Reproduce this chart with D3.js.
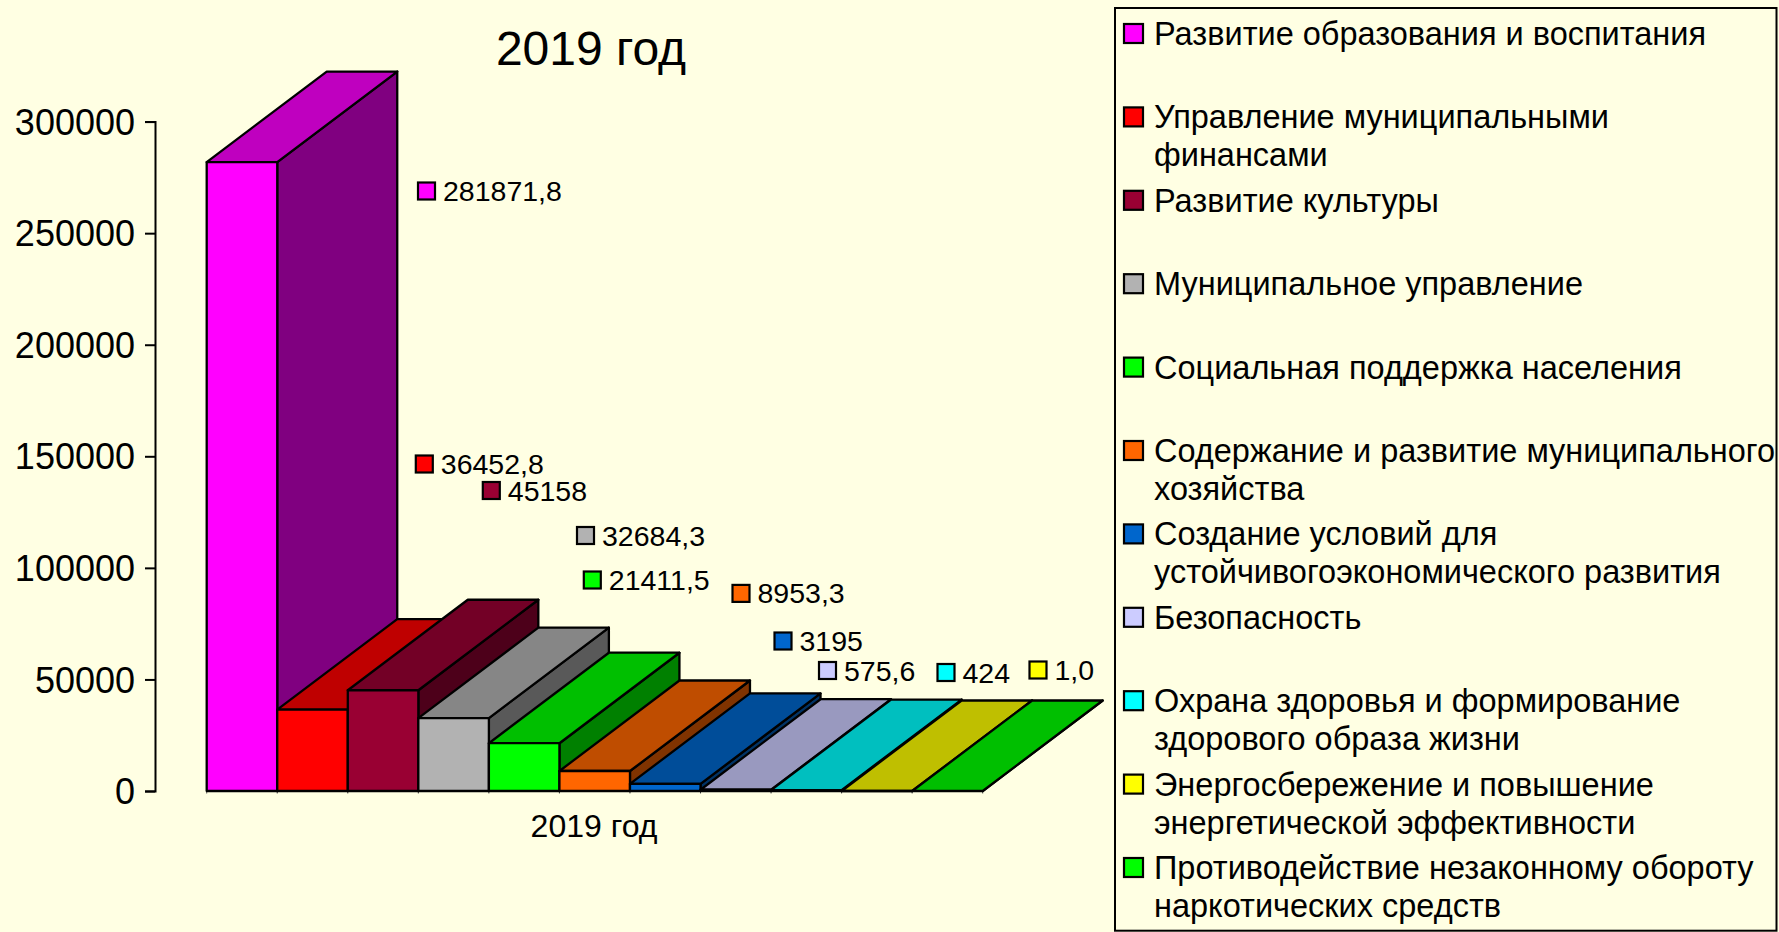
<!DOCTYPE html>
<html lang="ru">
<head>
<meta charset="UTF-8">
<title>2019 год</title>
<script src="https://d3js.org/d3.v7.min.js"></script>
<style>
html, body {margin: 0; padding: 0; background: #FFFFE3;}
svg {display: block;}
text {font-family: "Liberation Sans", Arial, sans-serif; fill: #000;}
.tick text {font-family: "Liberation Sans", Arial, sans-serif;}
</style>
</head>
<body>
<svg id="chart" width="1779" height="932"></svg>
<script>
var categories = [
    "Развитие образования и воспитания",
    "Управление муниципальными финансами",
    "Развитие культуры",
    "Муниципальное управление",
    "Социальная поддержка населения",
    "Содержание и развитие муниципального хозяйства",
    "Создание условий для устойчивогоэкономического развития",
    "Безопасность",
    "Охрана здоровья и формирование здорового образа жизни",
    "Энергосбережение и повышение энергетической эффективности",
    "Противодействие незаконному обороту наркотических средств"
];
var values = [281871.8, 36452.8, 45158, 32684.3, 21411.5, 8953.3, 3195, 575.6, 424, 1, 0];
var valueLabels = ["281871,8", "36452,8", "45158", "32684,3", "21411,5", "8953,3", "3195", "575,6", "424", "1,0", ""];
var colors = ["#FF00FF", "#FF0000", "#990033", "#B2B2B2", "#00FF00", "#FF6600", "#0066CC", "#CCCCFF", "#00FFFF", "#FFFF00", "#00FF00"];
var tickValues = [0, 50000, 100000, 150000, 200000, 250000, 300000];
var legendLines = [
    ["Развитие образования и воспитания"],
    ["Управление муниципальными", "финансами"],
    ["Развитие культуры"],
    ["Муниципальное управление"],
    ["Социальная поддержка населения"],
    ["Содержание и развитие муниципального", "хозяйства"],
    ["Создание условий для", "устойчивогоэкономического развития"],
    ["Безопасность"],
    ["Охрана здоровья и формирование", "здорового образа жизни"],
    ["Энергосбережение и повышение", "энергетической эффективности"],
    ["Противодействие незаконному обороту", "наркотических средств"]
];
// where the data label keys sit (the labels are placed by hand in the original)
var labelX = [426.5, 424.3, 491.3, 585.5, 592.3, 741, 783, 827.5, 946, 1038];
var labelY = [191, 464, 490.5, 535.5, 580, 593.4, 641, 670.5, 672.5, 670];

var depthX = 120, depthY = 90.5;
var baseY = 791, topY = 121.6;

var svg = d3.select("#chart");

var xs = d3.scaleBand().domain(categories).range([206.7, 982.7]);
var ys = d3.scaleLinear().domain([0, 300000]).range([baseY, topY]);

function shade(c, k) {
    var r = d3.rgb(c);
    return d3.rgb(r.r * k, r.g * k, r.b * k).formatHex();
}

// y axis
var yAxis = svg.append("g")
    .attr("transform", "translate(155,0)")
    .call(d3.axisLeft(ys).tickValues(tickValues).tickFormat(d3.format("d")).tickSize(10).tickPadding(10));
yAxis.select(".domain").attr("stroke", "#000").attr("stroke-width", 2);
yAxis.selectAll(".tick line").attr("stroke", "#000").attr("stroke-width", 2);
yAxis.selectAll(".tick text").attr("font-size", 36).attr("dy", "0.35em");

// small ticks on the category axis
svg.append("g").selectAll("line")
    .data(categories.concat(["end"]))
    .enter().append("line")
    .attr("x1", function(d) { return d === "end" ? xs.range()[1] : xs(d); })
    .attr("x2", function(d) { return d === "end" ? xs.range()[1] : xs(d); })
    .attr("y1", baseY)
    .attr("y2", baseY + 2.5)
    .attr("stroke", "#555")
    .attr("stroke-width", 1);

// bars, left to right so the nearer ones paint over
var bars = svg.append("g").selectAll("g")
    .data(categories)
    .enter().append("g")
    .attr("stroke", "#000")
    .attr("stroke-width", 2.3)
    .attr("stroke-linejoin", "round");

function pts(a) { return a.map(function(p) { return p.join(","); }).join(" "); }

bars.append("polygon") // side
    .attr("fill", function(d, i) { return shade(colors[i], 0.5); })
    .attr("points", function(d, i) {
        var x1 = xs(d) + xs.bandwidth(), y0 = ys(values[i]);
        return pts([[x1, y0], [x1 + depthX, y0 - depthY], [x1 + depthX, baseY - depthY], [x1, baseY]]);
    });
bars.append("polygon") // top
    .attr("fill", function(d, i) { return shade(colors[i], 0.75); })
    .attr("points", function(d, i) {
        var x0 = xs(d), x1 = x0 + xs.bandwidth(), y0 = ys(values[i]);
        return pts([[x0, y0], [x1, y0], [x1 + depthX, y0 - depthY], [x0 + depthX, y0 - depthY]]);
    });
bars.append("rect") // front
    .attr("fill", function(d, i) { return colors[i]; })
    .attr("x", function(d) { return xs(d); })
    .attr("y", function(d, i) { return ys(values[i]); })
    .attr("width", xs.bandwidth())
    .attr("height", function(d, i) { return baseY - ys(values[i]); });

// data labels
var labels = svg.append("g").selectAll("g")
    .data(valueLabels.filter(function(d) { return d !== ""; }))
    .enter().append("g")
    .attr("transform", function(d, i) { return "translate(" + labelX[i] + "," + labelY[i] + ")"; });
labels.append("rect")
    .attr("x", -8.5).attr("y", -8.5).attr("width", 17).attr("height", 17)
    .attr("fill", function(d, i) { return colors[i]; })
    .attr("stroke", "#000").attr("stroke-width", 2.2);
labels.append("text")
    .attr("x", 16.5).attr("y", 10)
    .attr("font-size", 28.5)
    .text(function(d) { return d; });

// titles
svg.append("text")
    .attr("x", 591).attr("y", 65)
    .attr("text-anchor", "middle")
    .attr("font-size", 48)
    .text("2019 год");
svg.append("text")
    .attr("x", 594).attr("y", 837)
    .attr("text-anchor", "middle")
    .attr("font-size", 32)
    .text("2019 год");

// legend
svg.append("rect")
    .attr("x", 1115).attr("y", 8)
    .attr("width", 661.5).attr("height", 922.7)
    .attr("fill", "none")
    .attr("stroke", "#000").attr("stroke-width", 2);

var legend = svg.append("g").selectAll("g")
    .data(legendLines)
    .enter().append("g")
    .attr("transform", function(d, i) { return "translate(1124," + (33.5 + 83.4 * i) + ")"; });
legend.append("rect")
    .attr("x", 0).attr("y", -9.5).attr("width", 19).attr("height", 19)
    .attr("fill", function(d, i) { return colors[i]; })
    .attr("stroke", "#000").attr("stroke-width", 2.2);
legend.append("text")
    .attr("font-size", 32.5)
    .selectAll("tspan")
    .data(function(d) { return d; })
    .enter().append("tspan")
    .attr("x", 30)
    .attr("y", function(d, i) { return 11.5 + i * 38; })
    .text(function(d) { return d; });
</script>
</body>
</html>
